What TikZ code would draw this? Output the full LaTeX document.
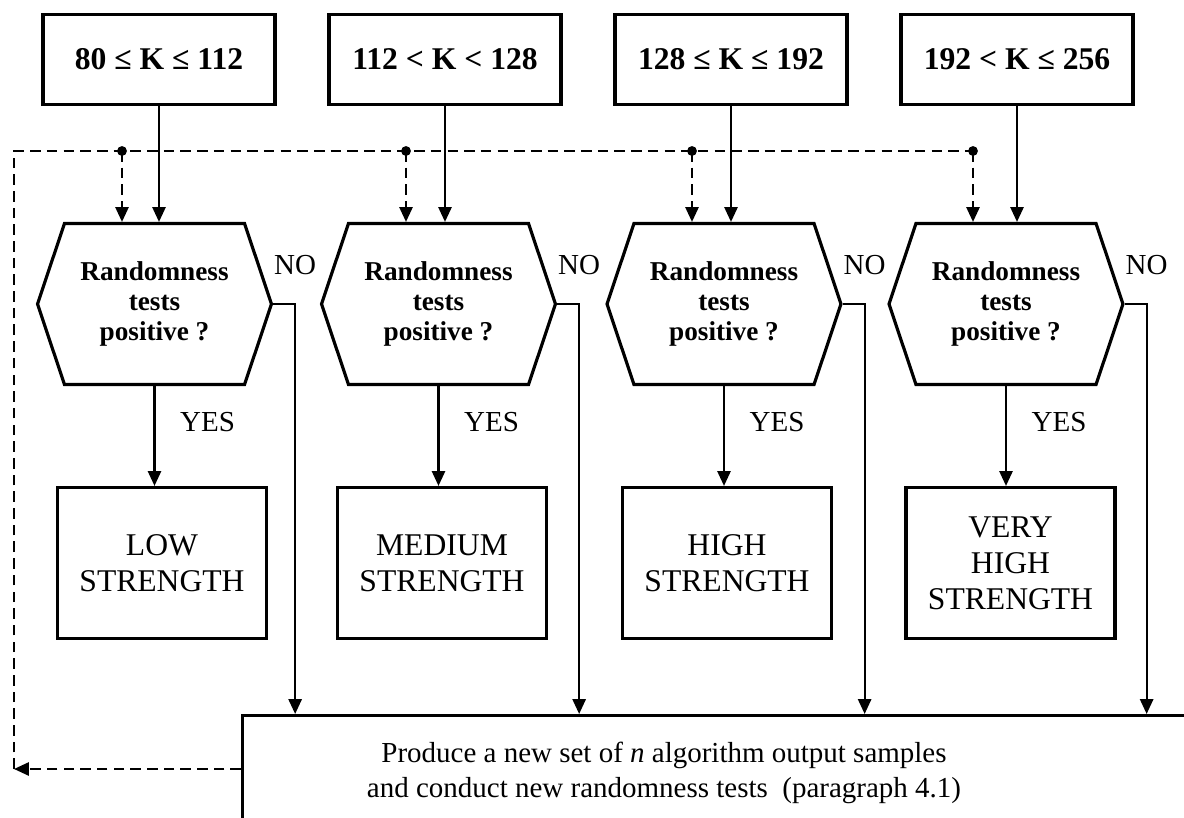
\documentclass[tikz,border=0pt]{standalone}
\usepackage{fontspec}
\setmainfont{Liberation Serif}
\usetikzlibrary{arrows.meta,shapes.symbols,calc}
\tikzstyle{keybox}=[rectangle,draw=black,line width=1.8pt,minimum width=4.64cm,minimum height=1.80cm,font=\fontsize{18}{21}\selectfont\bfseries]
\tikzstyle{testhex}=[signal,signal to=west and east,signal pointer angle=143,draw=black,line width=1.8pt,minimum width=4.68cm,minimum height=3.22cm,inner sep=0pt,align=center,font=\fontsize{15.5}{17}\selectfont\bfseries]
\tikzstyle{gradebox}=[rectangle,draw=black,line width=1.8pt,minimum width=4.18cm,minimum height=3.02cm,align=center,font=\fontsize{18}{20.5}\selectfont]
\tikzstyle{answer}=[font=\fontsize{16.5}{19}\selectfont]
\tikzstyle{flow}=[line width=1.3pt,-{Triangle[length=8.5pt,width=7.5pt]}]
\tikzstyle{loopline}=[line width=1.3pt,dash pattern=on 6pt off 3.5pt]

\begin{document}
\begin{tikzpicture}[x=0.02cm,y=-0.02cm]
\useasboundingbox (0,0) rectangle (1184,818);

% key length ranges
\node (k1) at (159,59.5)  [keybox] {80 ≤ K ≤ 112};
\node (k2) at (445,59.5)  [keybox] {112 < K < 128};
\node (k3) at (731,59.5)  [keybox] {128 ≤ K ≤ 192};
\node (k4) at (1017,59.5) [keybox] {192 < K ≤ 256};

% randomness decisions
\node (h1) at (154.5,304) [testhex] {Randomness\\tests\\positive ?};
\node (h2) at (438.5,304) [testhex] {Randomness\\tests\\positive ?};
\node (h3) at (724,304)   [testhex] {Randomness\\tests\\positive ?};
\node (h4) at (1006,304)  [testhex] {Randomness\\tests\\positive ?};

% strength grades
\node (g1) at (162,563)   [gradebox] {LOW\\STRENGTH};
\node (g2) at (442,563)   [gradebox] {MEDIUM\\STRENGTH};
\node (g3) at (727,563)   [gradebox] {HIGH\\STRENGTH};
\node (g4) at (1010.5,563) [gradebox] {VERY\\HIGH\\STRENGTH};

% new samples box, runs off the page
\node (redo) at (241,714) [anchor=north west,draw=black,line width=1.8pt,minimum width=30cm,minimum height=5cm] {};
\node (redotext) at (664,773) [align=center,font=\fontsize{16.5}{20}\selectfont]
  {Produce a new set of \textit{n} algorithm output samples\\and conduct new randomness tests\ \ (paragraph 4.1)};

\coordinate (d1) at (122,151);
\coordinate (d2) at (406,151);
\coordinate (d3) at (692,151);
\coordinate (d4) at (973,151);
\coordinate (corner) at (14,151);
\coordinate (back) at (14,769);

\draw[flow] (k1.south) -- (k1.south |- h1.north);
\draw[flow] (k2.south) -- (k2.south |- h2.north);
\draw[flow] (k3.south) -- (k3.south |- h3.north);
\draw[flow] (k4.south) -- (k4.south |- h4.north);

\draw[flow] (h1.south) -- (h1.south |- g1.north);
\draw[flow] (h2.south) -- (h2.south |- g2.north);
\draw[flow] (h3.south) -- (h3.south |- g3.north);
\draw[flow] (h4.south) -- (h4.south |- g4.north);

\node (y1) at (207.5,422) [answer] {YES};
\node (y2) at (491.5,422) [answer] {YES};
\node (y3) at (777,422)   [answer] {YES};
\node (y4) at (1059,422)  [answer] {YES};

\draw[flow] (h1.east) -- ++(22,0) coordinate (n1) -- (n1 |- redo.north);
\draw[flow] (h2.east) -- ++(22,0) coordinate (n2) -- (n2 |- redo.north);
\draw[flow] (h3.east) -- ++(22,0) coordinate (n3) -- (n3 |- redo.north);
\draw[flow] (h4.east) -- ++(22,0) coordinate (n4) -- (n4 |- redo.north);

\node (o1) at ($(n1)+(0,-39)$) [answer] {NO};
\node (o2) at ($(n2)+(0,-39)$) [answer] {NO};
\node (o3) at ($(n3)+(0,-39)$) [answer] {NO};
\node (o4) at ($(n4)+(0,-39)$) [answer] {NO};

% repeat loop
\draw[loopline,flow] (redo.west |- back) -- (back);
\draw[loopline] (back) -- (corner) -- (d4);
\draw[loopline,flow] (d1) -- (d1 |- h1.north);
\draw[loopline,flow] (d2) -- (d2 |- h2.north);
\draw[loopline,flow] (d3) -- (d3 |- h3.north);
\draw[loopline,flow] (d4) -- (d4 |- h4.north);
\foreach \d in {d1,d2,d3,d4}
  \fill (\d) circle (2.8pt);
\end{tikzpicture}
\end{document}
